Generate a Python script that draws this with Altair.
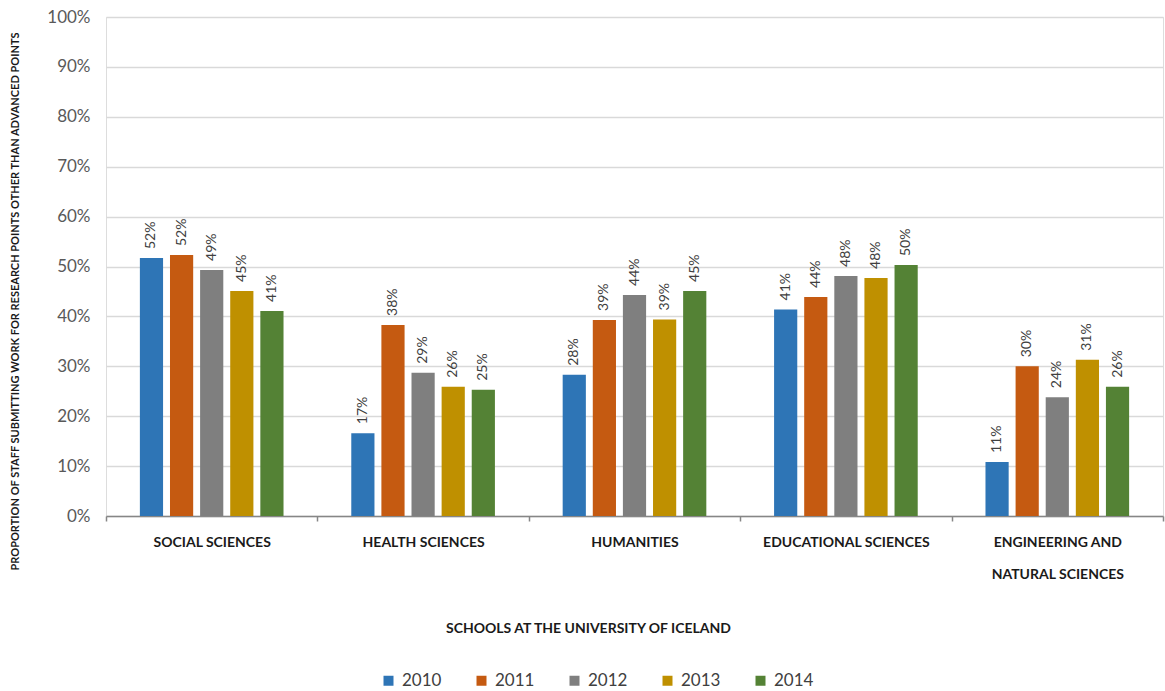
import altair as alt
import pandas as pd

# Schools (x categories) and survey years (series)
schools = [
    "SOCIAL SCIENCES",
    "HEALTH SCIENCES",
    "HUMANITIES",
    "EDUCATIONAL SCIENCES",
    "ENGINEERING AND NATURAL SCIENCES",
]
years = ["2010", "2011", "2012", "2013", "2014"]

# Proportion of staff per school, one list per year
v2010 = [0.517, 0.166, 0.283, 0.414, 0.108]
v2011 = [0.523, 0.383, 0.393, 0.439, 0.300]
v2012 = [0.493, 0.287, 0.443, 0.481, 0.238]
v2013 = [0.451, 0.259, 0.394, 0.477, 0.313]
v2014 = [0.411, 0.253, 0.451, 0.503, 0.259]

colors = ["#2E75B6", "#C55A11", "#7F7F7F", "#BF9000", "#548235"]
y_ticks = [i / 10 for i in range(11)]

series = dict(zip(years, [v2010, v2011, v2012, v2013, v2014]))
df = pd.DataFrame(
    [{"school": s, "year": y, "value": vals[i]} for y, vals in series.items() for i, s in enumerate(schools)]
)

# empty slots on either side of each cluster keep the bars centred with wide gaps
offset_domain = ["gap_left"] + years + ["gap_right"]

FONT = "Lato"

base = alt.Chart(df).encode(
    x=alt.X(
        "school:N",
        sort=schools,
        scale=alt.Scale(paddingInner=0, paddingOuter=0),
        axis=alt.Axis(
            title="SCHOOLS AT THE UNIVERSITY OF ICELAND",
            titleFont=FONT,
            titleFontSize=14,
            titleFontWeight="bold",
            titleColor="#1a1a1a",
            titleX=482,
            titleY=112,
            titleBaseline="middle",
            titleAlign="center",
            labelAngle=0,
            labelFont=FONT,
            labelFontSize=14,
            labelFontWeight="bold",
            labelColor="#1a1a1a",
            labelPadding=14,
            labelLineHeight=32,
            labelBaseline="top",
            labelExpr="datum.value == 'ENGINEERING AND NATURAL SCIENCES' ? ['ENGINEERING AND', 'NATURAL SCIENCES'] : datum.value",
            tickBand="extent",
            tickSize=5,
            tickColor="#868686",
            tickWidth=1.5,
            domainColor="#868686",
            domainWidth=1.5,
            grid=False,
        ),
    ),
    xOffset=alt.XOffset(
        "year:N",
        scale=alt.Scale(domain=offset_domain, paddingInner=0.23, paddingOuter=0.125),
    ),
    y=alt.Y(
        "value:Q",
        scale=alt.Scale(domain=[0, 1], nice=False),
        axis=alt.Axis(
            title="PROPORTION OF STAFF SUBMITTING WORK FOR RESEARCH POINTS OTHER THAN ADVANCED POINTS",
            titleFont=FONT,
            titleFontSize=11,
            titleFontWeight="bold",
            titleColor="#1a1a1a",
            titleX=-91,
            titleY=284,
            titleAngle=270,
            titleAlign="center",
            titleBaseline="middle",
            values=y_ticks,
            format=".0%",
            labelFont=FONT,
            labelFontSize=17,
            labelColor="#595959",
            labelPadding=16,
            ticks=False,
            domain=False,
            grid=True,
            gridColor="#D9D9D9",
            gridWidth=1.5,
        ),
    ),
)

bars = base.mark_bar().encode(
    color=alt.Color(
        "year:N",
        sort=years,
        scale=alt.Scale(domain=years, range=colors),
        legend=alt.Legend(
            title=None,
            orient="none",
            legendX=274,
            legendY=655,
            direction="horizontal",
            symbolType="square",
            symbolSize=100,
            symbolStrokeWidth=0,
            labelFont=FONT,
            labelFontSize=17,
            labelColor="#404040",
            labelOffset=5,
            columnPadding=31,
        ),
    )
)

labels = base.mark_text(
    angle=270, align="left", baseline="middle", dx=9, font=FONT, fontSize=14, color="#404040"
).encode(text=alt.Text("value:Q", format=".0%"))

chart = (
    alt.layer(bars, labels)
    .properties(
        width=1057,
        height=499,
        autosize=alt.AutoSizeParams(type="none"),
        padding={"left": 106, "top": 17, "right": 2, "bottom": 175},
    )
    .configure_view(stroke=None)
    .configure(background="white")
)

chart.save("out.html", embed_options={"renderer": "svg", "actions": False})
